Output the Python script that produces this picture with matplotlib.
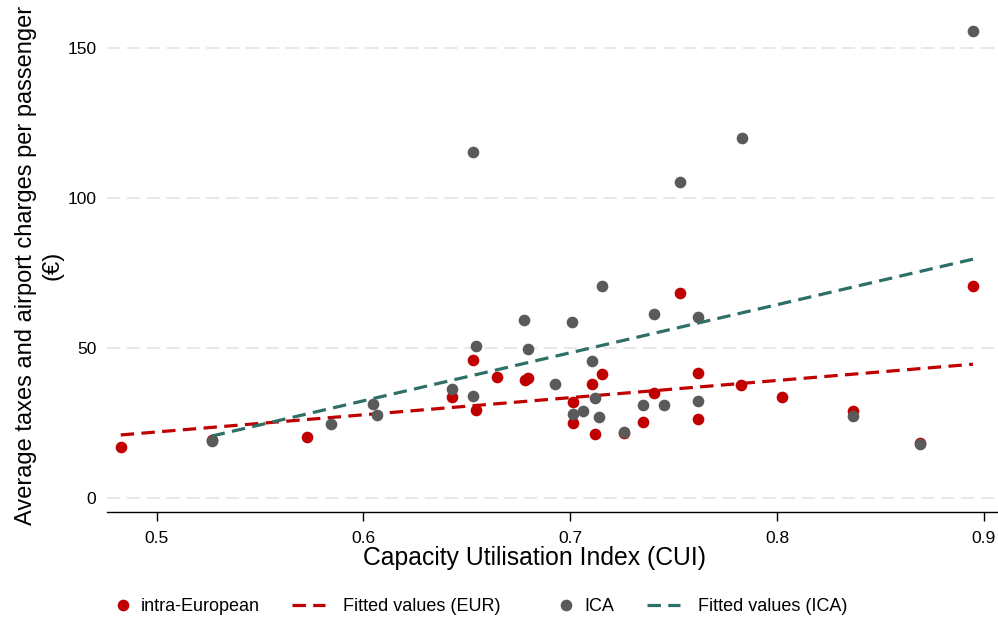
import numpy as np
import matplotlib
matplotlib.use("Agg")
import matplotlib.pyplot as plt
from matplotlib.legend_handler import HandlerLine2D

plt.rcParams['font.family'] = ['Liberation Sans', 'DejaVu Sans']

# Capacity Utilisation Index and average taxes/charges per passenger (EUR)
cui_eur = [0.4826, 0.5266, 0.5726, 0.6426, 0.6530, 0.6543, 0.6648, 0.6780,
           0.6796, 0.7011, 0.7014, 0.7106, 0.7119, 0.7155, 0.7261, 0.7350,
           0.7403, 0.7532, 0.7620, 0.7620, 0.7825, 0.8022, 0.8369, 0.8693,
           0.8948]
tax_eur = [17.0, 19.3, 20.3, 33.6, 45.9, 29.3, 40.2, 39.4,
           40.0, 32.1, 24.9, 38.1, 21.4, 41.4, 21.6, 25.2,
           34.9, 68.4, 41.7, 26.3, 37.7, 33.6, 28.9, 18.2,
           70.7]

cui_ica = [0.5266, 0.5845, 0.6047, 0.6064, 0.6426, 0.6530, 0.6529, 0.6543,
           0.6777, 0.6796, 0.6924, 0.7009, 0.7014, 0.7062, 0.7106, 0.7119,
           0.7140, 0.7156, 0.7261, 0.7350, 0.7403, 0.7454, 0.7533, 0.7620,
           0.7620, 0.7829, 0.8369, 0.8693, 0.8948]
tax_ica = [19.0, 24.7, 31.3, 27.7, 36.2, 34.1, 115.3, 50.7,
           59.2, 49.6, 38.1, 58.7, 27.9, 29.1, 45.6, 33.4,
           27.0, 70.7, 22.1, 30.9, 61.3, 30.9, 105.4, 60.3,
           32.2, 120.1, 27.4, 18.0, 155.7]

x_ticks = [0.5, 0.6, 0.7, 0.8, 0.9]
y_ticks = [0, 50, 100, 150]

RED = '#c00000'
GREY = '#5a5a5a'
TEAL = '#2e6f67'


def fitted(x, y):
    x = np.asarray(x)
    b, a = np.polyfit(x, np.asarray(y), 1)
    xs = np.array([x.min(), x.max()])
    return xs, a + b * xs


fig = plt.figure(figsize=(9.98, 6.17), dpi=100)
ax = fig.add_axes([0.1069, 0.1697, 0.8931, 0.8003])

dash = (0, (4.2, 2.3))
ms = 8.4

pe, = ax.plot(cui_eur, tax_eur, 'o', color=RED, ms=ms, mew=0, zorder=3,
              label='intra-European')
xs, ys = fitted(cui_eur, tax_eur)
fe, = ax.plot(xs, ys, color=RED, lw=2.3, ls=dash, zorder=4,
              label='Fitted values (EUR)')
pi, = ax.plot(cui_ica, tax_ica, 'o', color=GREY, ms=ms, mew=0, zorder=5,
              label='ICA')
xs, ys = fitted(cui_ica, tax_ica)
fi, = ax.plot(xs, ys, color=TEAL, lw=2.3, ls=dash, zorder=6,
              label='Fitted values (ICA)')

ax.set_xlim(0.4758, 0.9069)
ax.set_ylim(-4.87, 160)
ax.set_xticks(x_ticks)
ax.set_xticklabels([f'{t:g}' for t in x_ticks])
ax.set_yticks(y_ticks)

# horizontal dashed grid only
for t in y_ticks:
    ax.axhline(t, color='#e1e1e1', lw=1.1, ls=(0, (8.5, 4.5)), zorder=1)

for side in ['left', 'right', 'top']:
    ax.spines[side].set_visible(False)
ax.spines['bottom'].set_linewidth(1.0)

ax.tick_params(axis='x', length=6.5, width=1.0, pad=7, labelsize=12.5)
ax.tick_params(axis='y', length=0, pad=7.5, labelsize=12.5)

ax.set_xlabel('Capacity Utilisation Index (CUI)', fontsize=17.8)
ax.xaxis.label.set_va('center')
ax.xaxis.set_label_coords(0.4805, -0.0935)
ax.set_ylabel('Average taxes and airport charges per passenger\n(€)',
              fontsize=17, linespacing=1.28)
ax.yaxis.label.set_va('center')
ax.yaxis.set_label_coords(-0.076, 0.5)

hl = 1.83
fig.legend(handles=[pe, fe, pi, fi], ncol=4, frameon=False, fontsize=13,
           loc='center left', bbox_to_anchor=(0.0899, 0.0165),
           borderpad=0, borderaxespad=0, handlelength=hl, handletextpad=1.0,
           columnspacing=1.8,
           handler_map={pe: HandlerLine2D(numpoints=1, xpad=hl),
                        pi: HandlerLine2D(numpoints=1, xpad=hl)})

fig.savefig('out.png', dpi=100)
